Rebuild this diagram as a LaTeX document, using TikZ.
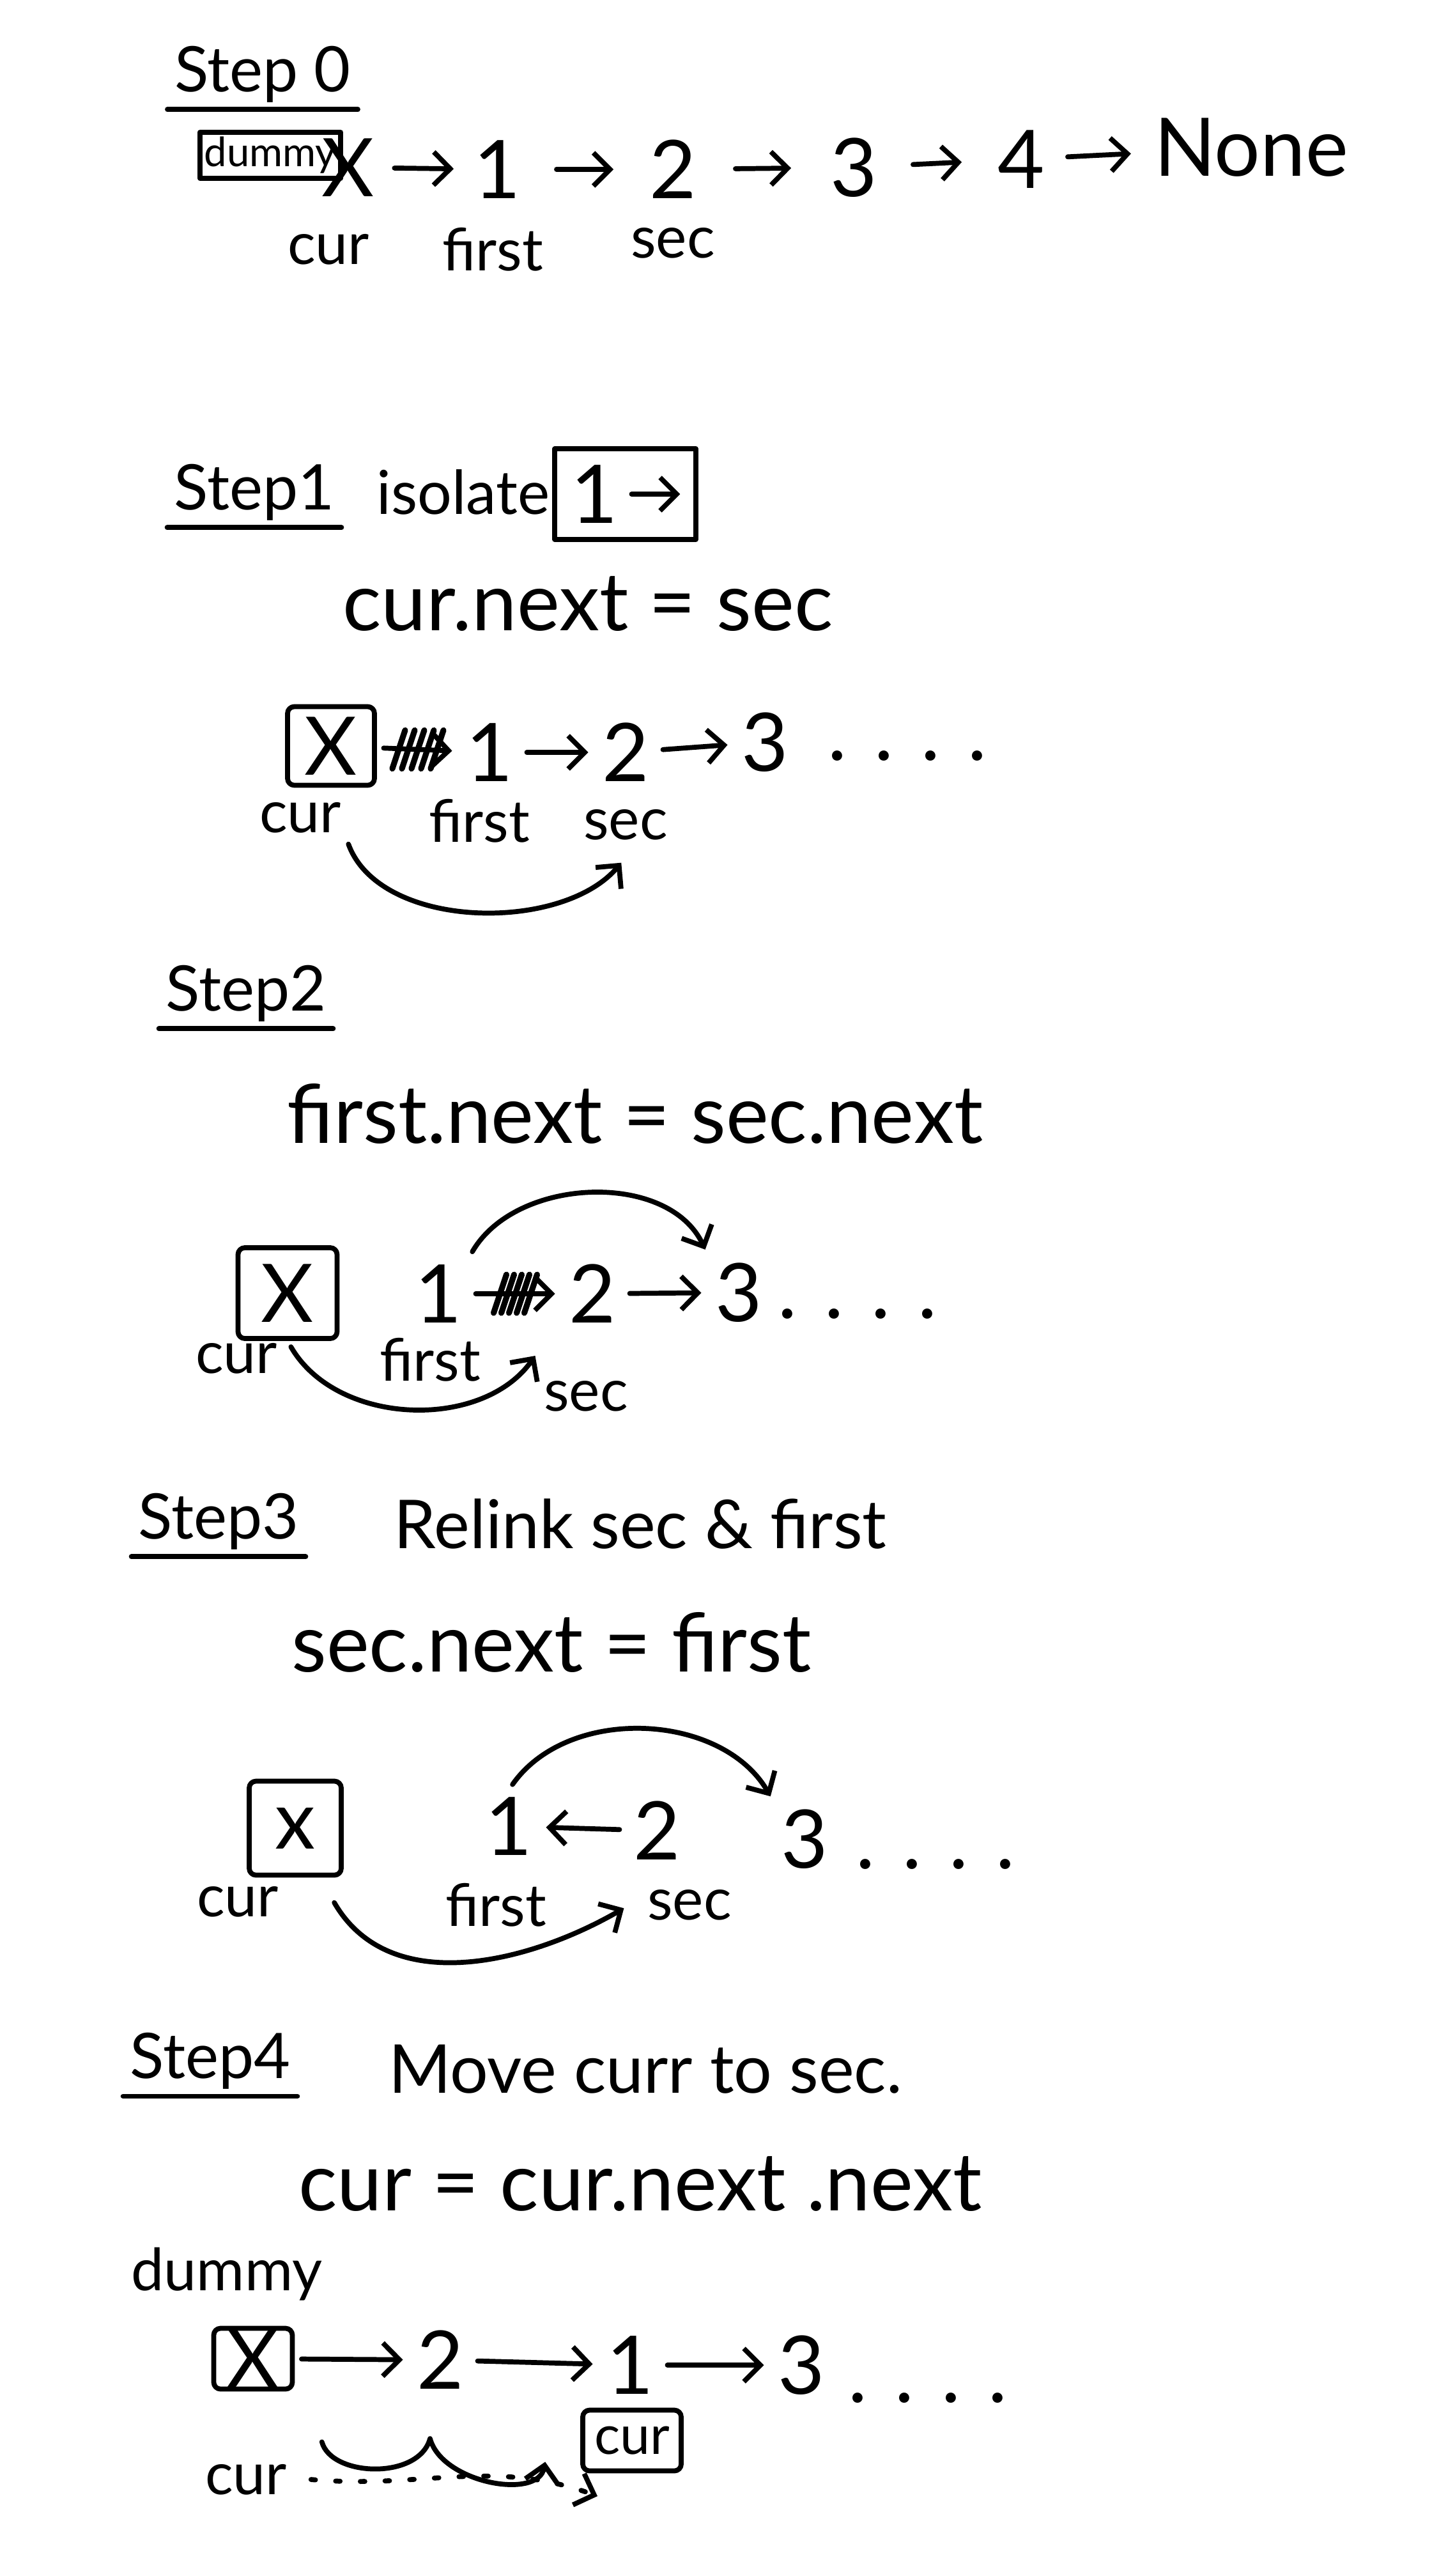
\documentclass[tikz,border=0pt]{standalone}
\usepackage{fontspec}
\setmainfont{Lato}
\usetikzlibrary{arrows.meta,fit}

\tikzset{
  ink/.style={line width=2.2pt, line cap=round, line join=round},
  link/.style={ink, -{Straight Barb[length=2.6mm,width=5.2mm]}, shorten <=3pt, shorten >=3pt},
  dotline/.style={ink, dash pattern=on 2pt off 9pt, -{Straight Barb[length=2.6mm,width=5.2mm]}},
  scribble/.style={ink, line width=2.6pt},
  uline/.style={ink},
  elem/.style={inner sep=3pt, font=\fontsize{36}{40}\selectfont},
  lbl/.style={inner sep=2pt, font=\fontsize{26}{30}\selectfont},
  steptitle/.style={inner sep=3pt, font=\fontsize{28}{32}\selectfont},
  note/.style={inner sep=2pt, font=\fontsize{30}{34}\selectfont},
  code/.style={inner sep=2pt, font=\fontsize{36}{40}\selectfont},
  xbox/.style={draw, ink, rounded corners=3pt, inner sep=0pt, font=\fontsize{36}{40}\selectfont},
}

\begin{document}
\begin{tikzpicture}
  \path[use as bounding box, fill=white] (0,0) rectangle (22.4,-40.3);

  % Step 0: the list with a dummy head
  \begin{scope}
    \node[steptitle] (t0) at (4.11,-1.16) {Step 0};
    \draw[uline] (t0.south west) -- (t0.south east);
    \node[draw, ink, inner sep=2pt, font=\fontsize{18}{20}\selectfont] (dummy0) at (4.23,-2.43) {dummy};
    \foreach \v/\x/\y [count=\i from 0] in {X/5.45/-2.62, 1/7.78/-2.65, 2/10.53/-2.65, 3/13.36/-2.62, 4/15.98/-2.49, None/19.58/-2.31} {
      \node[elem] (a\i) at (\x,\y) {\v};
    }
    \foreach \i/\s in {0/0.2, 1/0.45, 2/0.5, 3/0.45, 4/0.25} {
      \pgfmathsetmacro{\next}{int(\i+1)}
      \draw[link, shorten <=\s cm, shorten >=\s cm] (a\i) -- (a\next);
    }
    \node[lbl] (a-cur) at (5.14,-3.90) {cur};
    \node[lbl] (a-first) at (7.71,-3.90) {first};
    \node[lbl] (a-sec) at (10.53,-3.80) {sec};
  \end{scope}

  % Step 1: isolate the first node
  \begin{scope}[yshift=-7.7cm]
    \node[steptitle] (t1) at (3.98,0) {Step1};
    \draw[uline] (t1.south west) -- (t1.south east);
    \node[note, font=\fontsize{27}{30}\selectfont] (iso) at (7.25,0) {isolate};
    \node[elem] (iso1) at (9.3,-0.03) {1};
    \coordinate (isoend) at (10.75,-0.03);
    \draw[link] (iso1) -- (isoend);
    \node[draw, ink, fit=(iso1)(isoend), inner sep=4pt] (isobox) {};
    \node[code] (b-code) at (9.20,-1.75) {cur.next = sec};

    \node[xbox, minimum width=1.36cm, minimum height=1.23cm] (b0) at (5.18,-3.97) {X};
    \foreach \v/\x/\y [count=\i] in {1/7.66/-4.07, 2/9.79/-4.07, 3/11.97/-3.91} {
      \node[elem] (b\i) at (\x,\y) {\v};
    }
    \node[elem] (bdots) at (14.2,-4.12) {. . . .};
    \draw[link] (b0) -- (b1);
    \path (b0) -- (b1) coordinate[midway] (bcut);
    \foreach \dx in {-0.3,-0.15,0,0.15,0.3} {
      \draw[scribble] ([shift={(\dx-0.1,-0.3)}]bcut) -- ++(0.2,0.6);
    }
    \draw[link] (b1) -- (b2);
    \draw[link] (b2) -- (b3);
    \node[lbl] (b-cur) at (4.70,-5.09) {cur};
    \node[lbl] (b-first) at (7.50,-5.14) {first};
    \node[lbl] (b-sec) at (9.79,-5.20) {sec};
    \draw[link] (b-cur.south east) to[out=-70,in=-130,looseness=0.9] ([yshift=-2mm]b-sec.south);
  \end{scope}

  % Step 2: first skips over sec
  \begin{scope}[yshift=-15.5cm]
    \node[steptitle] (t2) at (3.85,-0.04) {Step2};
    \draw[uline] (t2.south west) -- (t2.south east);
    \node[code] (c-code) at (9.94,-1.92) {first.next = sec.next};

    \node[xbox, minimum width=1.55cm, minimum height=1.42cm] (c0) at (4.50,-4.73) {X};
    \foreach \v/\x/\y [count=\i] in {1/6.86/-4.74, 2/9.27/-4.74, 3/11.56/-4.72} {
      \node[elem] (c\i) at (\x,\y) {\v};
    }
    \node[elem] (cdots) at (13.42,-5.05) {. . . .};
    \draw[link] (c1) -- (c2);
    \path (c1) -- (c2) coordinate[midway] (ccut);
    \foreach \dx in {-0.24,-0.12,0,0.12,0.24} {
      \draw[scribble] ([shift={(\dx-0.1,-0.3)}]ccut) -- ++(0.2,0.6);
    }
    \draw[link] (c2) -- (c3);
    \draw[link] (c1.north east) to[out=60,in=115] (c3.north west);
    \node[lbl] (c-cur) at (3.70,-5.75) {cur};
    \node[lbl] (c-first) at (6.73,-5.77) {first};
    \node[lbl] (c-sec) at (9.17,-6.34) {sec};
    \draw[link] (c0.south) to[out=-60,in=-125] ([yshift=4mm]c-sec.north west);
  \end{scope}

  % Step 3: relink sec and first
  \begin{scope}[yshift=-23.8cm]
    \node[steptitle] (t3) at (3.42,0) {Step3};
    \draw[uline] (t3.south west) -- (t3.south east);
    \node[note] (relink) at (10.02,-0.04) {Relink sec \& first};
    \node[code] (d-code) at (8.63,-1.89) {sec.next = first};

    \node[xbox, minimum width=1.44cm, minimum height=1.47cm] (d0) at (4.62,-4.80) {x};
    \foreach \v/\x/\y [count=\i] in {1/7.96/-4.77, 2/10.28/-4.84, 3/12.59/-4.97} {
      \node[elem] (d\i) at (\x,\y) {\v};
    }
    \node[elem] (ddots) at (14.64,-5.36) {. . . .};
    \draw[link] (d2) -- (d1);
    \draw[link] (d1.north) to[out=55,in=120] (d3.north west);
    \node[lbl] (d-cur) at (3.72,-5.95) {cur};
    \node[lbl] (d-first) at (7.76,-6.00) {first};
    \node[lbl] (d-sec) at (10.79,-6.00) {sec};
    \draw[link] ([xshift=-2mm,yshift=-3mm]d0.south east) to[out=-60,in=-150] ([xshift=-2mm]d-sec.west);
  \end{scope}

  % Step 4: move cur to sec
  \begin{scope}[yshift=-32.2cm]
    \node[steptitle] (t4) at (3.29,-0.04) {Step4};
    \draw[uline] (t4.south west) -- (t4.south east);
    \node[note] (move) at (10.10,-0.17) {Move curr to sec.};
    \node[code] (e-code) at (10.02,-1.97) {cur = cur.next .next};

    \node[lbl] (e-dummy) at (3.55,-3.38) {dummy};
    \node[xbox, minimum width=1.23cm, minimum height=0.95cm] (e0) at (3.96,-4.70) {X};
    \foreach \v/\x/\y [count=\i] in {2/6.89/-4.72, 1/9.86/-4.80, 3/12.54/-4.80} {
      \node[elem] (e\i) at (\x,\y) {\v};
    }
    \node[elem] (edots) at (14.52,-5.31) {. . . .};
    \foreach \i in {0,...,2} {
      \pgfmathsetmacro{\next}{int(\i+1)}
      \draw[link] (e\i) -- (e\next);
    }
    \node[xbox, font=\fontsize{24}{28}\selectfont, minimum width=1.54cm, minimum height=0.95cm] (e-curbox) at (9.89,-5.98) {cur};
    \node[lbl] (e-cur) at (3.85,-6.59) {cur};
    \coordinate (hopA) at (5.01,-5.90);
    \coordinate (hopB) at (6.73,-5.95);
    \coordinate (hopC) at (8.55,-6.21);
    \coordinate (hopD) at (9.35,-6.85);
    \draw[link] (hopA) to[out=-75,in=-105] (hopB) to[out=-75,in=-100] (hopC);
    \draw[dotline] ([xshift=3mm]e-cur.east) to[out=-5,in=160] (hopD);
  \end{scope}
\end{tikzpicture}
\end{document}
